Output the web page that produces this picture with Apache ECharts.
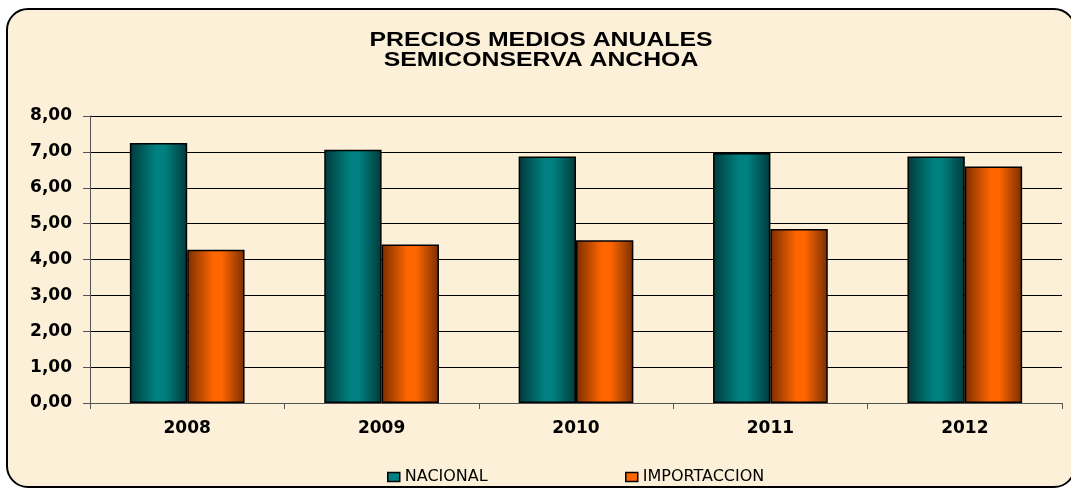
<!DOCTYPE html>
<html>
<head>
<meta charset="utf-8">
<script src="https://cdn.jsdelivr.net/npm/echarts@6/dist/echarts.min.js"></script>
<style>
  html, body { margin: 0; padding: 0; background: #ffffff; width: 1071px; height: 488px; overflow: hidden; }
  #frame { position: absolute; left: 6px; top: 8px; width: 1066px; height: 476px; border: 2px solid #000; border-radius: 22px; background: #FCF0D9; overflow: hidden; }
  #chart { position: absolute; left: 0; top: 0; width: 1071px; height: 488px; }
</style>
</head>
<body>
<div id="frame"></div>
<div id="chart"></div>
<script>
const titleLines = ['PRECIOS MEDIOS ANUALES', 'SEMICONSERVA ANCHOA'];
const categories = ['2008', '2009', '2010', '2011', '2012'];
const nacional = [7.25, 7.06, 6.87, 6.97, 6.87];
const importaccion = [4.27, 4.42, 4.54, 4.85, 6.59];
const seriesNames = ['NACIONAL', 'IMPORTACCION'];

function grad(edge, mid) {
  return new echarts.graphic.LinearGradient(0, 0, 1, 0, [
    { offset: 0, color: edge },
    { offset: 0.45, color: mid },
    { offset: 0.6, color: mid },
    { offset: 1, color: edge }
  ]);
}

const chart = echarts.init(document.getElementById('chart'), null, { renderer: 'canvas' });
const fmt = v => v.toFixed(2).replace('.', ',');
const legendText = { fontFamily: 'DejaVu Sans, Verdana, sans-serif', fontSize: 16, color: '#000' };
const axisFont = { fontFamily: 'DejaVu Sans, Verdana, sans-serif', fontSize: 17, fontWeight: 'bold', color: '#000' };
chart.setOption({
  backgroundColor: 'transparent',
  animation: false,
  graphic: [{
    type: 'text', x: 541, y: 30, scaleX: 1.24,
    style: {
      text: titleLines.join('\n'), x: 0, y: 0, align: 'center', verticalAlign: 'top',
      font: 'bold 20px "Liberation Sans", Arial, sans-serif', lineHeight: 20, fill: '#000'
    }
  }],
  legend: [
    { data: [{ name: seriesNames[0], itemStyle: { color: '#008080', borderColor: '#000', borderWidth: 1.5 } }],
      left: 382, top: 464, icon: 'rect', itemWidth: 12, itemHeight: 9, itemGap: 8, textStyle: legendText },
    { data: [{ name: seriesNames[1], itemStyle: { color: '#ff6600', borderColor: '#000', borderWidth: 1.5 } }],
      left: 620, top: 464, icon: 'rect', itemWidth: 12, itemHeight: 9, itemGap: 8, textStyle: legendText }
  ],
  grid: { left: 90, right: 9, top: 116, bottom: 85, containLabel: false },
  xAxis: {
    type: 'category', data: categories,
    axisLine: { lineStyle: { color: '#555', width: 1 } },
    axisTick: { show: true, inside: false, length: 6, lineStyle: { color: '#555' } },
    axisLabel: Object.assign({ margin: 17 }, axisFont)
  },
  yAxis: {
    type: 'value', min: 0, max: 8, interval: 1,
    axisLine: { show: true, lineStyle: { color: '#555', width: 1 } },
    axisTick: { show: true, inside: false, length: 7, lineStyle: { color: '#555' } },
    splitLine: { show: true, lineStyle: { color: '#000', width: 1 } },
    axisLabel: Object.assign({ formatter: fmt, margin: 18 }, axisFont)
  },
  series: [
    { name: seriesNames[0], type: 'bar', data: nacional, barGap: '0%', barCategoryGap: '41%',
      itemStyle: { color: grad('#013a3a', '#008080'), borderColor: '#000', borderWidth: 1.5 } },
    { name: seriesNames[1], type: 'bar', data: importaccion,
      itemStyle: { color: grad('#7a2e00', '#ff6600'), borderColor: '#000', borderWidth: 1.5 } }
  ]
});
</script>
</body>
</html>
